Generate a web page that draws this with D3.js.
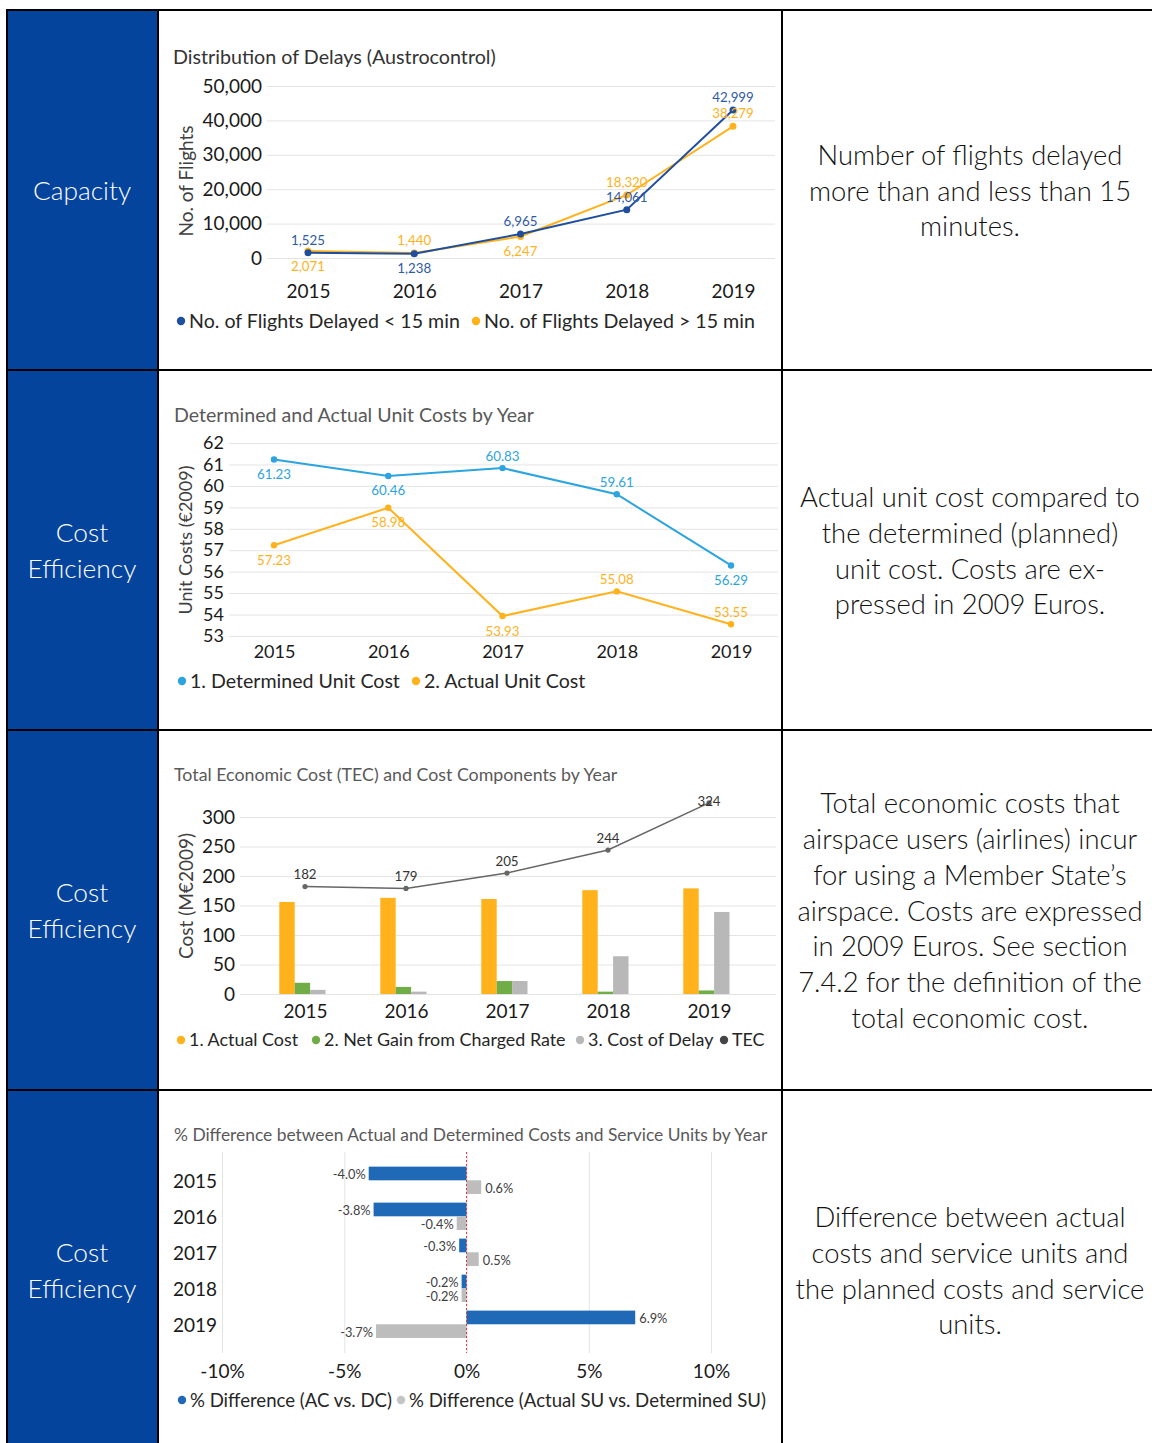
<!DOCTYPE html>
<html>
<head>
<meta charset="utf-8">
<script src="https://cdn.jsdelivr.net/npm/d3@7"></script>
<style>
  html, body { margin: 0; padding: 0; background: #fff; }
  svg { display: block; font-family: Lato, "Open Sans", sans-serif; }
</style>
</head>
<body>
<div id="page"></div>
<script>
// values
const years = ["2015", "2016", "2017", "2018", "2019"];

const delaysUnder15 = [1525, 1238, 6965, 14061, 42999];
const delaysOver15 = [2071, 1440, 6247, 18320, 38279];
const delayTicks = [0, 10000, 20000, 30000, 40000, 50000];

const determinedUnitCost = [61.23, 60.46, 60.83, 59.61, 56.29];
const actualUnitCost = [57.23, 58.98, 53.93, 55.08, 53.55];
const unitCostTicks = [53, 54, 55, 56, 57, 58, 59, 60, 61, 62];

const actualCost = [156, 163, 161, 176, 179];
const netGain = [19, 12, 22, 4, 6];
const costOfDelay = [7, 4, 22, 64, 139];
const tecTotal = [182, 179, 205, 244, 324];
const costTicks = [0, 50, 100, 150, 200, 250, 300];

const diffAcDc = [-4.0, -3.8, -0.3, -0.2, 6.9];
const diffSu = [0.6, -0.4, 0.5, -0.2, -3.7];
const pctTicks = [-10, -5, 0, 5, 10];

// which side of the point each data label sits on (1 = above, -1 = below)
const sideUnder15 = [1, -1, 1, 1, 1];
const sideOver15 = [-1, 1, -1, 1, 1];
const sideDetermined = [-1, -1, 1, 1, -1];
const sideActual = [-1, -1, -1, 1, 1];

const rowLabels = [["Capacity"], ["Cost", "Efficiency"], ["Cost", "Efficiency"], ["Cost", "Efficiency"]];
const rowNotes = [
  ["Number of flights delayed", "more than and less than 15", "minutes."],
  ["Actual unit cost compared to", "the determined (planned)", "unit cost. Costs are ex-", "pressed in 2009 Euros."],
  ["Total economic costs that", "airspace users (airlines) incur", "for using a Member State\u2019s",
   "airspace. Costs are expressed", "in 2009 Euros. See section", "7.4.2 for the definition of the",
   "total economic cost."],
  ["Difference between actual", "costs and service units and", "the planned costs and service", "units."]
];

const W = 1152, H = 1443;
const FONT = "Lato, 'Open Sans', sans-serif";
const BLUE_CELL = "#05449d";
const DARK_BLUE = "#1f4e9e";
const ORANGE = "#ffb21c";
const LIGHT_BLUE = "#2ba4e0";
const GREEN = "#70ad47";
const GREY = "#b8b8b8";
const GRID = "#e4e4e4";
const rowTop = [11, 371, 731, 1091];
const rowH = 358;

const svg = d3.select("#page").append("svg").attr("width", W).attr("height", H);
svg.append("rect").attr("width", W).attr("height", H).attr("fill", "#fff");

// ---- table ----
svg.append("rect").attr("x", 8).attr("y", 11).attr("width", 149).attr("height", H - 11).attr("fill", BLUE_CELL);

const borders = svg.append("g").attr("stroke", "#000").attr("stroke-width", 2);
borders.append("line").attr("x1", 6).attr("x2", W).attr("y1", 10).attr("y2", 10);
[370, 730, 1090].forEach((y) => borders.append("line").attr("x1", 6).attr("x2", W).attr("y1", y).attr("y2", y));
[7, 158, 782].forEach((x) => borders.append("line").attr("x1", x).attr("x2", x).attr("y1", 9).attr("y2", H));

rowLabels.forEach((lines, i) => {
  const cy = rowTop[i] + rowH / 2 + 1;
  const t = svg.append("text").attr("x", 82).attr("text-anchor", "middle")
    .attr("fill", "#fff").style("font-size", "26.3px").style("font-weight", 300);
  lines.forEach((s, j) => {
    t.append("tspan").attr("x", 82)
      .attr("y", cy + (j - (lines.length - 1) / 2) * 36)
      .attr("dy", "0.35em").text(s);
  });
});

rowNotes.forEach((lines, i) => {
  const cy = rowTop[i] + rowH / 2 + 1;
  const t = svg.append("text").attr("text-anchor", "middle")
    .attr("fill", "#111").style("font-size", "27.4px").style("font-weight", 300);
  lines.forEach((s, j) => {
    t.append("tspan").attr("x", 970)
      .attr("y", cy + (j - (lines.length - 1) / 2) * 35.9)
      .attr("dy", "0.35em").text(s);
  });
});

// ---- shared helpers ----
const hyphen = (s) => s.replace("\u2212", "-");

function title(x, y, text, size, color) {
  svg.append("text").attr("x", x).attr("y", y).attr("dy", "0.35em")
    .attr("fill", color).style("font-size", size + "px").text(text);
}

function yTitle(x, y, text, size) {
  svg.append("text").attr("transform", `translate(${x},${y}) rotate(-90)`)
    .attr("text-anchor", "middle").attr("dy", "0.35em")
    .attr("fill", "#404040").style("font-size", size + "px").text(text);
}

function yAxisGrid(y, ticks, x0, x1, fmt, size) {
  const g = svg.append("g").attr("transform", `translate(${x0},0)`)
    .call(d3.axisLeft(y).tickValues(ticks).tickSize(-(x1 - x0)).tickPadding(5).tickFormat(fmt));
  g.select(".domain").remove();
  g.selectAll(".tick line").attr("stroke", GRID);
  g.selectAll(".tick text").attr("fill", "#1a1a1a").style("font-size", size + "px")
    .style("font-family", FONT);
  return g;
}

function xAxisLabels(x, cy, size) {
  const g = svg.append("g").attr("transform", `translate(0,${cy})`)
    .call(d3.axisBottom(x).tickSize(0).tickPadding(0));
  g.select(".domain").remove();
  g.selectAll(".tick text").attr("y", 0).attr("dy", "0.35em").attr("fill", "#1a1a1a")
    .style("font-size", size + "px").style("font-family", FONT);
}

function legend(cy, items, size) {
  items.forEach(([x, color, text]) => {
    svg.append("circle").attr("cx", x).attr("cy", cy).attr("r", 4.2).attr("fill", color);
    svg.append("text").attr("x", x + 8).attr("y", cy).attr("dy", "0.35em")
      .attr("fill", "#262626").style("font-size", size + "px").text(text);
  });
}

function lineSeries(x, y, values, color, width, r) {
  const pts = values.map((v, i) => [x(years[i]), y(v)]);
  svg.append("path").attr("d", d3.line()(pts)).attr("fill", "none")
    .attr("stroke", color).attr("stroke-width", width);
  svg.append("g").selectAll("circle").data(pts).join("circle")
    .attr("cx", (d) => d[0]).attr("cy", (d) => d[1]).attr("r", r).attr("fill", color);
  return pts;
}

function pointLabels(pts, values, sides, fmt, color, size, up, down, minY) {
  svg.append("g").selectAll("text").data(pts).join("text")
    .attr("x", (d) => d[0])
    .attr("y", (d, i) => {
      const yy = sides[i] > 0 ? d[1] - up : d[1] + down;
      return minY ? Math.max(yy, minY) : yy;
    })
    .attr("dy", "0.35em").attr("text-anchor", "middle")
    .attr("fill", color).style("font-size", size + "px")
    .text((d, i) => fmt(values[i]));
}

// ---- chart 1: distribution of delays ----
(function () {
  const x = d3.scalePoint().domain(years).range([308, 733]);
  const y = d3.scaleLinear().domain([0, 50000]).range([258, 86]);
  title(173, 57, "Distribution of Delays (Austrocontrol)", 19.7, "#333");
  yAxisGrid(y, delayTicks, 267, 775, d3.format(","), 19);
  yTitle(186, 181, "No. of Flights", 19);
  xAxisLabels(x, 291, 19);
  const pOver = lineSeries(x, y, delaysOver15, ORANGE, 2, 3.5);
  const pUnder = lineSeries(x, y, delaysUnder15, DARK_BLUE, 2, 3.5);
  pointLabels(pUnder, delaysUnder15, sideUnder15, d3.format(","), "#2f5aa6", 13.3, 12.5, 15);
  pointLabels(pOver, delaysOver15, sideOver15, d3.format(","), ORANGE, 13.3, 12.5, 15);
  legend(321, [[181, DARK_BLUE, "No. of Flights Delayed < 15 min"], [476, ORANGE, "No. of Flights Delayed > 15 min"]], 19.6);
})();

// ---- chart 2: determined and actual unit costs ----
(function () {
  const x = d3.scalePoint().domain(years).range([274, 731]);
  const y = d3.scaleLinear().domain([53, 62]).range([636, 443]);
  title(174, 415, "Determined and Actual Unit Costs by Year", 19.6, "#595959");
  yAxisGrid(y, unitCostTicks, 229, 778, d3.format("d"), 18);
  yTitle(186, 540, "Unit Costs (\u20ac2009)", 18);
  xAxisLabels(x, 652, 18);
  const pDet = lineSeries(x, y, determinedUnitCost, LIGHT_BLUE, 2, 3.2);
  const pAct = lineSeries(x, y, actualUnitCost, ORANGE, 2, 3.2);
  pointLabels(pDet, determinedUnitCost, sideDetermined, d3.format(".2f"), LIGHT_BLUE, 13.3, 12, 14.5);
  pointLabels(pAct, actualUnitCost, sideActual, d3.format(".2f"), ORANGE, 13.3, 12, 15);
  legend(681, [[182, LIGHT_BLUE, "1. Determined Unit Cost"], [416, ORANGE, "2. Actual Unit Cost"]], 19.6);
})();

// ---- chart 3: total economic cost ----
(function () {
  const x = d3.scalePoint().domain(years).range([305, 709]);
  const y = d3.scaleLinear().domain([0, 300]).range([994, 817]);
  const inner = d3.scaleBand().domain(["actual", "net", "delay"]).range([-25.7, 20.5]);
  const colors = { actual: ORANGE, net: GREEN, delay: GREY };
  const series = { actual: actualCost, net: netGain, delay: costOfDelay };
  title(174, 775, "Total Economic Cost (TEC) and Cost Components by Year", 17.8, "#595959");
  yAxisGrid(y, costTicks, 240, 776, d3.format("d"), 19);
  yTitle(186, 896, "Cost (M\u20ac2009)", 19);
  xAxisLabels(x, 1011, 19);

  const rows = [];
  years.forEach((yr, i) => inner.domain().forEach((k) => rows.push({ yr, k, v: series[k][i] })));
  svg.append("g").selectAll("rect").data(rows).join("rect")
    .attr("x", (d) => x(d.yr) + inner(d.k))
    .attr("width", inner.bandwidth())
    .attr("y", (d) => y(d.v))
    .attr("height", (d) => y(0) - y(d.v))
    .attr("fill", (d) => colors[d.k]);

  const pTec = lineSeries(x, y, tecTotal, "#666", 1.5, 2.6);
  pointLabels(pTec, tecTotal, [1, 1, 1, 1, 1], d3.format("d"), "#333", 13.3, 12, 0, 801);
  legend(1040, [[181, ORANGE, "1. Actual Cost"], [316, GREEN, "2. Net Gain from Charged Rate"],
    [580, GREY, "3. Cost of Delay"], [724, "#444", "TEC"]], 17.9);
})();

// ---- chart 4: % difference ----
(function () {
  const x = d3.scaleLinear().domain([-10, 10]).range([222, 711]);
  const y = d3.scaleBand().domain(years).range([1158, 1346.6]).paddingInner(0.24).paddingOuter(0.24);
  const inner = d3.scaleBand().domain(["ac", "su"]).range([0, y.bandwidth()]);
  const colors = { ac: "#1f69b7", su: "#bdbdbd" };
  const series = { ac: diffAcDc, su: diffSu };
  title(174, 1135, "% Difference between Actual and Determined Costs and Service Units by Year", 17.4, "#595959");

  const gx = svg.append("g").attr("transform", "translate(0,1353)")
    .call(d3.axisBottom(x).tickValues(pctTicks).tickSize(-201).tickPadding(0).tickFormat((d) => d + "%"));
  gx.select(".domain").remove();
  gx.selectAll(".tick line").attr("stroke", GRID);
  gx.selectAll(".tick text").attr("y", 18).attr("dy", "0.35em").attr("fill", "#1a1a1a")
    .style("font-size", "19px").style("font-family", FONT);

  const gy = svg.append("g").attr("transform", "translate(217,0)")
    .call(d3.axisLeft(y).tickSize(0).tickPadding(0));
  gy.select(".domain").remove();
  gy.selectAll(".tick text").attr("y", 1.5).attr("fill", "#1a1a1a").style("font-size", "19px")
    .style("font-family", FONT);

  const rows = [];
  years.forEach((yr, i) => inner.domain().forEach((k) => rows.push({ yr, k, v: series[k][i] })));
  svg.append("g").selectAll("rect").data(rows).join("rect")
    .attr("x", (d) => x(Math.min(0, d.v)))
    .attr("width", (d) => Math.abs(x(d.v) - x(0)))
    .attr("y", (d) => y(d.yr) + inner(d.k))
    .attr("height", inner.bandwidth())
    .attr("fill", (d) => colors[d.k]);

  svg.append("line").attr("x1", x(0)).attr("x2", x(0)).attr("y1", 1152).attr("y2", 1353)
    .attr("stroke", "#e03a3a").attr("stroke-width", 1).attr("stroke-dasharray", "2,2");

  svg.append("g").selectAll("text").data(rows).join("text")
    .attr("x", (d) => (d.v < 0 ? x(d.v) - 3 : x(d.v) + 4))
    .attr("y", (d) => y(d.yr) + inner(d.k) + inner.bandwidth() / 2 + 1)
    .attr("dy", "0.35em")
    .attr("text-anchor", (d) => (d.v < 0 ? "end" : "start"))
    .attr("fill", "#404040").style("font-size", "12.8px")
    .text((d) => hyphen(d3.format(".1f")(d.v)) + "%");

  legend(1400, [[182, colors.ac, "% Difference (AC vs. DC)"],
    [401, "#c4c4c4", "% Difference (Actual SU vs. Determined SU)"]], 18.6);
})();
</script>
</body>
</html>
